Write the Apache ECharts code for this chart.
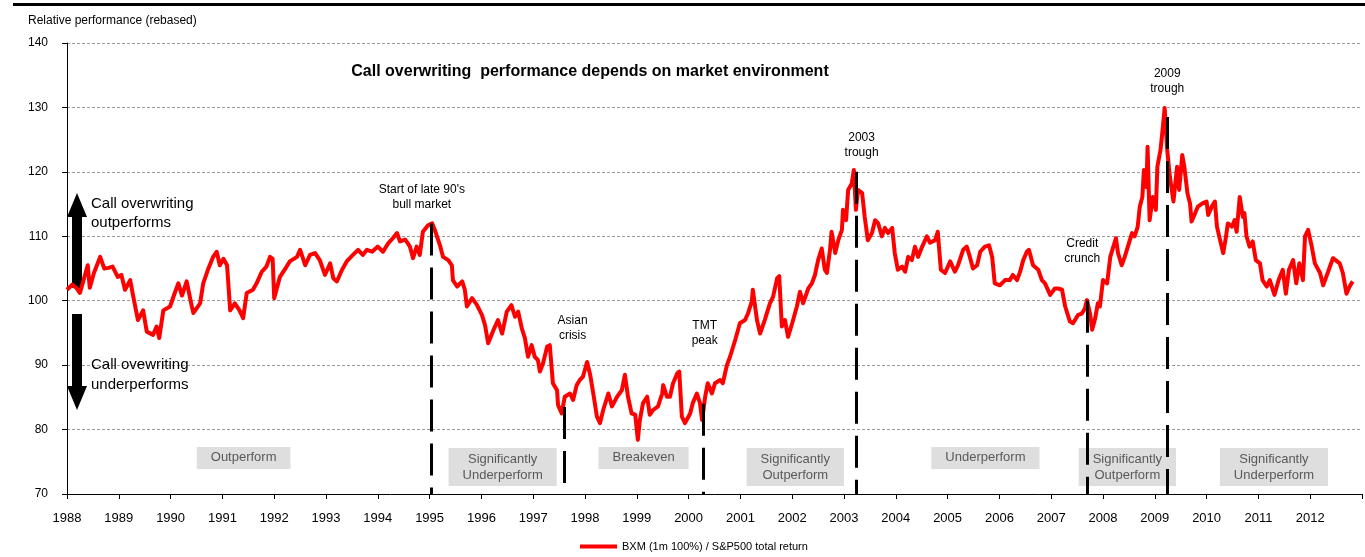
<!DOCTYPE html>
<html>
<head>
<meta charset="utf-8">
<script src="https://cdn.jsdelivr.net/npm/echarts@6/dist/echarts.min.js"></script>
<style>
  html, body { margin: 0; padding: 0; background: #fff; }
  #chart { width: 1365px; height: 557px; }
</style>
</head>
<body>
<div id="chart"></div>
<script>
// decimal year of each reading
const years = [
  1988.00, 1988.10, 1988.18, 1988.25, 1988.40, 1988.44, 1988.52, 1988.64, 1988.72, 1988.80,
  1988.88, 1988.98, 1989.05, 1989.12, 1989.22, 1989.28, 1989.37, 1989.47, 1989.54, 1989.66,
  1989.73, 1989.78, 1989.86, 1989.99, 1990.08, 1990.15, 1990.22, 1990.31, 1990.41, 1990.44,
  1990.57, 1990.63, 1990.72, 1990.82, 1990.89, 1990.95, 1991.02, 1991.09, 1991.15, 1991.24,
  1991.33, 1991.40, 1991.47, 1991.59, 1991.66, 1991.76, 1991.85, 1991.92, 1991.97, 1992.00,
  1992.11, 1992.24, 1992.30, 1992.44, 1992.50, 1992.60, 1992.69, 1992.79, 1992.88, 1992.98,
  1993.08, 1993.14, 1993.21, 1993.31, 1993.40, 1993.52, 1993.62, 1993.71, 1993.79, 1993.89,
  1994.00, 1994.10, 1994.20, 1994.29, 1994.37, 1994.43, 1994.53, 1994.62, 1994.68, 1994.75,
  1994.81, 1994.87, 1994.97, 1995.05, 1995.10, 1995.20, 1995.26, 1995.36, 1995.43, 1995.45,
  1995.53, 1995.63, 1995.68, 1995.72, 1995.82, 1995.91, 1996.01, 1996.07, 1996.13, 1996.22,
  1996.32, 1996.40, 1996.49, 1996.58, 1996.65, 1996.71, 1996.78, 1996.84, 1996.90, 1996.97,
  1997.03, 1997.09, 1997.13, 1997.19, 1997.27, 1997.32, 1997.38, 1997.46, 1997.48, 1997.55,
  1997.61, 1997.71, 1997.77, 1997.84, 1997.90, 1997.96, 1998.04, 1998.10, 1998.16, 1998.23,
  1998.29, 1998.35, 1998.45, 1998.52, 1998.62, 1998.71, 1998.77, 1998.83, 1998.90, 1998.97,
  1999.02, 1999.06, 1999.12, 1999.20, 1999.25, 1999.31, 1999.41, 1999.49, 1999.51, 1999.58,
  1999.64, 1999.70, 1999.78, 1999.82, 1999.87, 1999.93, 2000.03, 2000.08, 2000.16, 2000.22,
  2000.26, 2000.32, 2000.37, 2000.45, 2000.51, 2000.61, 2000.66, 2000.74, 2000.80, 2000.90,
  2000.99, 2001.09, 2001.15, 2001.22, 2001.24, 2001.32, 2001.38, 2001.47, 2001.57, 2001.63,
  2001.71, 2001.75, 2001.80, 2001.86, 2001.92, 2002.00, 2002.09, 2002.15, 2002.21, 2002.31,
  2002.38, 2002.44, 2002.50, 2002.57, 2002.63, 2002.67, 2002.73, 2002.76, 2002.83, 2002.89,
  2002.96, 2002.98, 2003.04, 2003.08, 2003.15, 2003.19, 2003.23, 2003.27, 2003.35, 2003.40,
  2003.46, 2003.54, 2003.60, 2003.66, 2003.73, 2003.79, 2003.85, 2003.93, 2003.98, 2004.04,
  2004.12, 2004.18, 2004.24, 2004.31, 2004.37, 2004.43, 2004.51, 2004.60, 2004.66, 2004.76,
  2004.81, 2004.87, 2004.95, 2005.05, 2005.14, 2005.20, 2005.30, 2005.37, 2005.43, 2005.49,
  2005.57, 2005.63, 2005.72, 2005.80, 2005.86, 2005.91, 2006.01, 2006.11, 2006.20, 2006.26,
  2006.34, 2006.40, 2006.46, 2006.53, 2006.57, 2006.65, 2006.75, 2006.82, 2006.88, 2006.98,
  2007.07, 2007.13, 2007.21, 2007.27, 2007.36, 2007.42, 2007.52, 2007.59, 2007.65, 2007.69,
  2007.75, 2007.79, 2007.85, 2007.90, 2007.94, 2008.00, 2008.08, 2008.14, 2008.20, 2008.25,
  2008.29, 2008.36, 2008.42, 2008.48, 2008.56, 2008.61, 2008.67, 2008.71, 2008.76, 2008.79,
  2008.84, 2008.86, 2008.90, 2008.96, 2009.02, 2009.05, 2009.11, 2009.15, 2009.19, 2009.24,
  2009.29, 2009.36, 2009.43, 2009.47, 2009.53, 2009.57, 2009.63, 2009.68, 2009.71, 2009.78,
  2009.83, 2009.92, 2010.00, 2010.03, 2010.10, 2010.16, 2010.20, 2010.26, 2010.32, 2010.37,
  2010.41, 2010.49, 2010.54, 2010.58, 2010.64, 2010.70, 2010.73, 2010.77, 2010.83, 2010.89,
  2010.95, 2011.03, 2011.08, 2011.16, 2011.22, 2011.31, 2011.39, 2011.47, 2011.53, 2011.59,
  2011.67, 2011.73, 2011.79, 2011.86, 2011.90, 2011.96, 2012.03, 2012.09, 2012.19, 2012.25,
  2012.31, 2012.39, 2012.44, 2012.52, 2012.57, 2012.63, 2012.70, 2012.76, 2012.82
]

// BXM (1m 100%) / S&P500 total return, rebased
const values = [
  101.7, 102.5, 102.0, 101.2, 105.5, 102.0, 104.3, 106.8, 105.0, 105.1,
  105.3, 103.7, 104.0, 101.7, 103.2, 100.6, 97.0, 98.5, 95.2, 94.7,
  96.0, 94.2, 98.5, 99.1, 101.2, 102.7, 100.8, 103.0, 99.1, 98.1,
  99.6, 102.7, 104.8, 106.8, 107.6, 105.5, 106.5, 105.5, 98.5, 99.6,
  98.5, 97.3, 101.2, 101.7, 102.7, 104.5, 105.3, 106.8, 106.5, 100.4,
  103.7, 105.3, 106.1, 106.8, 107.9, 105.5, 107.1, 107.4, 106.3, 104.0,
  105.8, 103.5, 103.0, 104.8, 106.1, 107.1, 107.9, 107.1, 107.9, 107.6,
  108.4, 107.6, 108.9, 109.7, 110.5, 109.2, 109.5, 108.4, 106.6, 108.4,
  107.1, 110.7, 111.7, 112.0, 111.0, 108.6, 106.8, 106.3, 105.5, 103.2,
  102.2, 103.0, 101.7, 99.1, 100.4, 99.4, 97.8, 96.2, 93.4, 95.2,
  97.0, 94.9, 98.3, 99.3, 97.5, 98.3, 95.7, 94.2, 91.3, 93.1,
  91.3, 90.8, 89.0, 90.3, 92.9, 93.1, 87.2, 86.1, 83.8, 82.5,
  85.1, 85.6, 84.6, 86.9, 87.7, 88.2, 90.5, 88.5, 85.6, 82.0,
  81.0, 83.0, 85.6, 83.6, 85.1, 86.1, 88.5, 85.1, 82.5, 82.3,
  78.4, 81.5, 84.1, 85.1, 82.3, 83.0, 83.6, 85.6, 86.9, 85.1,
  85.1, 87.2, 88.7, 89.0, 82.0, 81.0, 82.5, 84.1, 85.6, 84.1,
  81.5, 85.1, 87.2, 85.6, 87.2, 87.7, 87.2, 90.0, 91.3, 93.9,
  96.5, 97.0, 98.1, 99.9, 101.7, 97.0, 94.9, 97.0, 99.6, 100.6,
  103.5, 103.8, 96.0, 97.0, 94.4, 96.5, 99.1, 101.4, 99.6, 101.9,
  102.7, 104.0, 106.3, 108.1, 104.8, 104.3, 107.9, 110.7, 107.4, 109.4,
  111.0, 114.1, 112.5, 117.2, 118.2, 120.3, 114.1, 117.2, 116.7, 113.0,
  109.4, 110.5, 112.5, 112.0, 110.0, 111.3, 110.5, 111.3, 107.4, 104.8,
  105.3, 104.5, 106.8, 106.3, 108.4, 106.8, 108.4, 110.0, 109.0, 109.4,
  110.7, 104.8, 104.3, 106.1, 104.5, 105.5, 107.9, 108.4, 106.8, 105.0,
  105.5, 107.6, 108.4, 108.6, 106.8, 102.7, 102.4, 103.2, 103.2, 104.0,
  103.2, 104.5, 106.3, 107.6, 107.9, 105.5, 104.8, 103.2, 102.7, 100.9,
  101.9, 101.9, 101.7, 99.1, 96.8, 96.5, 97.8, 98.0, 98.8, 100.1,
  98.0, 95.5, 97.3, 99.6, 99.1, 103.2, 102.7, 106.8, 108.4, 109.7,
  107.4, 105.5, 106.8, 108.4, 110.5, 110.0, 111.5, 114.6, 116.1, 120.3,
  117.6, 123.9, 112.5, 116.1, 114.1, 120.8, 123.4, 126.5, 129.9, 123.4,
  119.3, 115.4, 120.8, 117.2, 122.6, 120.8, 116.7, 115.1, 112.3, 113.6,
  114.6, 115.1, 115.4, 113.3, 114.6, 115.4, 111.5, 109.4, 107.4, 109.7,
  112.0, 111.5, 112.5, 110.7, 116.1, 113.0, 113.6, 110.0, 108.4, 109.2,
  106.3, 105.8, 103.2, 102.2, 103.2, 100.9, 103.2, 104.8, 101.1, 104.8,
  106.3, 102.7, 105.8, 103.2, 110.0, 111.0, 108.4, 105.8, 104.3, 102.4,
  103.7, 105.5, 106.6, 106.1, 105.8, 104.3, 101.1, 102.2, 103.0
]

// turning points: [year, value at top of the dashed line]
const eventYears = [1995.03, 1997.6, 2000.28, 2003.23, 2007.69, 2009.24]
const eventTops = [112, 83.5, 84, 120, 100, 128.5]

// callouts above the line
const eventNames = ["Start of late 90's\nbull market", 'Asian\ncrisis', 'TMT\npeak', '2003\ntrough', 'Credit\ncrunch', '2009\ntrough']
const eventLabelAt = [[1994.85, 116], [1997.76, 95.8], [2000.31, 95], [2003.34, 124.2], [2007.6, 107.7], [2009.24, 134.1]]

// regime boxes along the bottom
const regimeNames = ['Outperform', 'Significantly\nUnderperform', 'Breakeven', 'Significantly\nOutperform', 'Underperform', 'Significantly\nOutperform', 'Significantly\nUnderperform']
const regimeAt = [[1991.41, 75.6], [1996.41, 74.2], [1999.13, 75.6], [2002.06, 74.2], [2005.73, 75.6], [2008.47, 74.2], [2011.3, 74.2]]

const FONT = 'Liberation Sans, Arial, sans-serif'

const chart = echarts.init(document.getElementById('chart'))

const seriesData = years.map((y, i) => [y, values[i]])
const markLines = eventYears.map((y, i) => [{ coord: [y, eventTops[i]] }, { coord: [y, 70] }])

chart.setOption({
  animation: false,
  textStyle: { fontFamily: FONT },
  grid: { left: 67, right: 2, top: 43, bottom: 63 },
  legend: {
    left: 575,
    top: 536,
    itemWidth: 37,
    itemHeight: 4,
    itemGap: 4,
    icon: 'rect',
    textStyle: { fontSize: 11, color: '#000', fontFamily: FONT },
    data: ['BXM (1m 100%) / S&P500 total return']
  },
  xAxis: {
    type: 'value',
    min: 1988,
    max: 2013,
    interval: 1,
    axisLine: { lineStyle: { color: '#000', width: 1 } },
    axisTick: { show: true, length: 5, lineStyle: { color: '#000' } },
    axisLabel: {
      margin: 18,
      fontSize: 13,
      color: '#000',
      fontFamily: FONT,
      formatter: (v) => (v >= 2013 ? '' : String(v))
    },
    splitLine: { show: false }
  },
  yAxis: {
    type: 'value',
    min: 70,
    max: 140,
    interval: 10,
    axisLine: { show: true, lineStyle: { color: '#000', width: 1 } },
    axisTick: { show: true, length: 5, lineStyle: { color: '#000' } },
    axisLabel: { margin: 19, fontSize: 12, color: '#000', fontFamily: FONT },
    splitLine: { show: true, lineStyle: { color: '#9a9a9a', type: [3, 2], width: 1 } }
  },
  series: [
    {
      name: 'BXM (1m 100%) / S&P500 total return',
      type: 'line',
      data: seriesData,
      showSymbol: false,
      symbol: 'none',
      lineStyle: { color: '#ff0000', width: 4, join: 'round' },
      itemStyle: { color: '#ff0000' },
      z: 3,
      markLine: {
        silent: true,
        symbol: 'none',
        label: { show: false },
        lineStyle: { color: '#000', width: 3, type: [32, 12] },
        data: markLines,
        z: 4
      }
    }
  ]
})

// 获取像素位置后画注释
const px = (p) => chart.convertToPixel({ gridIndex: 0 }, p)

const graphics = [
  { type: 'rect', shape: { x: 13, y: 3, width: 1352, height: 3 }, style: { fill: '#000' } },
  {
    type: 'text', left: 28, top: 15,
    style: { text: 'Relative performance (rebased)', font: '12px ' + FONT, fill: '#000' }
  },
  {
    type: 'text', x: 590, y: 72,
    style: {
      text: 'Call overwriting  performance depends on market environment',
      font: 'bold 16px ' + FONT, fill: '#000', align: 'center', verticalAlign: 'middle'
    }
  },
  // up / down arrows on the left
  {
    type: 'polygon',
    shape: { points: [[77, 193], [87, 217], [82, 217], [82, 288], [72, 288], [72, 217], [67, 217]] },
    style: { fill: '#000' }
  },
  {
    type: 'polygon',
    shape: { points: [[72, 314], [82, 314], [82, 386], [87, 386], [77, 410], [67, 386], [72, 386]] },
    style: { fill: '#000' }
  },
  {
    type: 'text', x: 91, y: 213,
    style: { text: 'Call overwriting\noutperforms', font: '15px ' + FONT, fill: '#000', lineHeight: 19, verticalAlign: 'middle' }
  },
  {
    type: 'text', x: 91, y: 375,
    style: { text: 'Call ovewriting\nunderperforms', font: '15px ' + FONT, fill: '#000', lineHeight: 20, verticalAlign: 'middle' }
  }
]

eventNames.forEach((name, i) => {
  const p = px(eventLabelAt[i])
  graphics.push({
    type: 'text', x: p[0], y: p[1], z: 10,
    style: { text: name, font: '12px ' + FONT, fill: '#000', align: 'center', verticalAlign: 'middle', lineHeight: 15 }
  })
})

regimeNames.forEach((name, i) => {
  const p = px(regimeAt[i])
  graphics.push({
    type: 'text', x: p[0], y: p[1], z: 1,
    style: {
      text: name, font: '13px ' + FONT, fill: '#595959', align: 'center', verticalAlign: 'middle',
      lineHeight: 16, backgroundColor: '#dedede', padding: [3, 14, 3, 14]
    }
  })
})

chart.setOption({ graphic: graphics })
</script>
</body>
</html>
